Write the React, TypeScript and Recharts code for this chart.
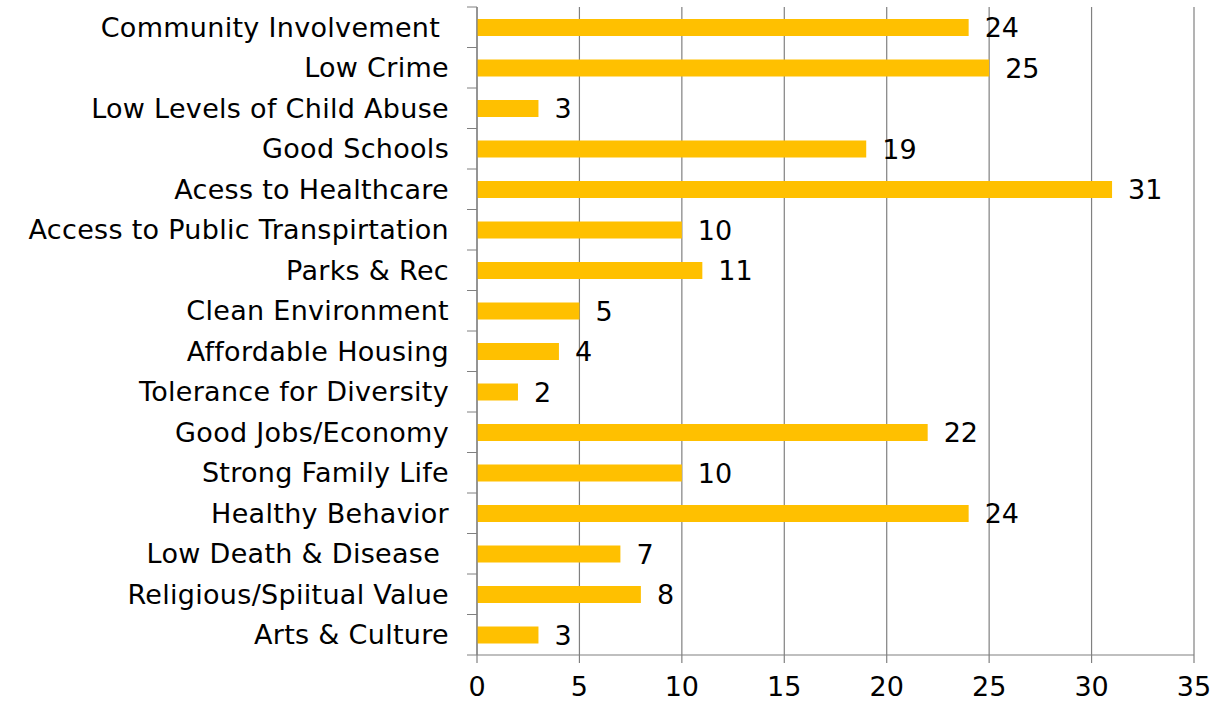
import React from 'react';
import { BarChart, Bar, XAxis, YAxis, CartesianGrid, LabelList } from 'recharts';

const categories = [
  'Community Involvement ',
  'Low Crime',
  'Low Levels of Child Abuse',
  'Good Schools',
  'Acess to Healthcare',
  'Access to Public Transpirtation',
  'Parks & Rec',
  'Clean Environment',
  'Affordable Housing',
  'Tolerance for Diversity',
  'Good Jobs/Economy',
  'Strong Family Life',
  'Healthy Behavior',
  'Low Death & Disease ',
  'Religious/Spiitual Value',
  'Arts & Culture',
];
const values = [24, 25, 3, 19, 31, 10, 11, 5, 4, 2, 22, 10, 24, 7, 8, 3];
const xTicks = [0, 5, 10, 15, 20, 25, 30, 35];

const data = categories.map((c, i) => ({ name: c, value: values[i] }));

const FONT = '"DejaVu Sans", Verdana, sans-serif';
const AXIS = '#808080';
const PLOT_H = 648;
const N = categories.length;
const Y_AXIS_W = 477;

const YTick = (props: any) => {
  const { y, payload, index } = props;
  const half = payload && payload.offset ? payload.offset : PLOT_H / N / 2;
  const axisX = Y_AXIS_W;
  return (
    <g>
      <line x1={axisX - 10} x2={axisX} y1={y - half} y2={y - half} stroke={AXIS} strokeWidth={1} />
      {index === N - 1 && (
        <line x1={axisX - 10} x2={axisX} y1={y + half} y2={y + half} stroke={AXIS} strokeWidth={1} />
      )}
      <text
        x={axisX - 28}
        y={y}
        dy="0.36em"
        textAnchor="end"
        fontFamily={FONT}
        fontSize={27}
        letterSpacing={0.3}
        fill="#000"
        style={{ whiteSpace: 'pre' }}
      >
        {payload.value}
      </text>
    </g>
  );
};

export default function App() {
  return (
    <div style={{ position: 'absolute', left: 0, top: 0, background: '#fff' }}>
      <BarChart
        width={1220}
        height={706}
        data={data}
        layout="vertical"
        margin={{ top: 7, right: 26, bottom: 0, left: 0 }}
        barCategoryGap={0}
      >
        <CartesianGrid horizontal={false} vertical={true} stroke={AXIS} strokeWidth={1.2} />
        <XAxis
          type="number"
          domain={[0, 35]}
          ticks={xTicks}
          interval={0}
          height={51}
          axisLine={{ stroke: AXIS, strokeWidth: 1.2 }}
          tickLine={{ stroke: AXIS, strokeWidth: 1.2 }}
          tickSize={8}
          tickMargin={14}
          tick={{ fontFamily: FONT, fontSize: 27, fill: '#000' }}
        />
        <YAxis
          type="category"
          dataKey="name"
          width={Y_AXIS_W}
          interval={0}
          axisLine={{ stroke: AXIS, strokeWidth: 1.2 }}
          tickLine={false}
          tick={<YTick />}
        />
        <Bar dataKey="value" fill="#FFC000" barSize={17} isAnimationActive={false}>
          <LabelList
            dataKey="value"
            position="right"
            offset={16}
            fill="#000"
            fontFamily={FONT}
            fontSize={27}
          />
        </Bar>
      </BarChart>
    </div>
  );
}
